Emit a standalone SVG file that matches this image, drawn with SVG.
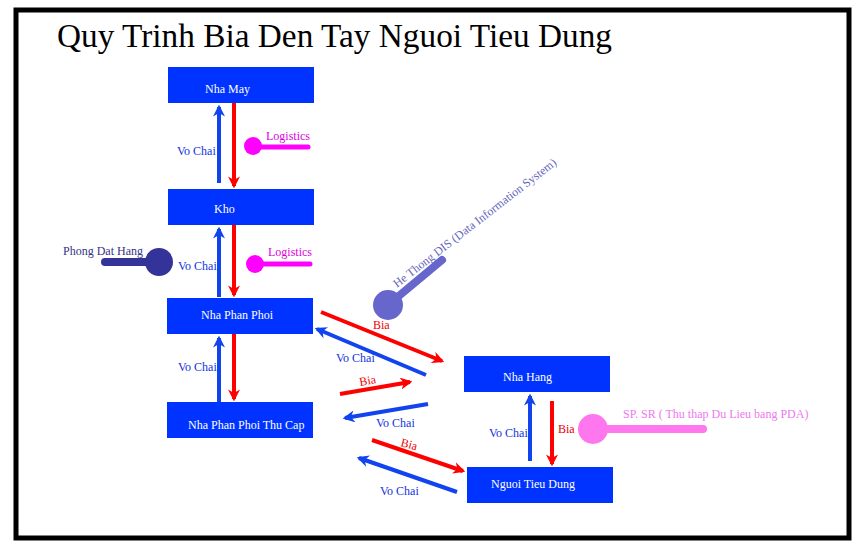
<svg xmlns="http://www.w3.org/2000/svg" width="863" height="552" viewBox="0 0 863 552">
<style>
.node{fill:#0033ff}
.nt{fill:#ffffff;font-family:"Liberation Serif",serif;font-size:12px}
.lb{font-family:"Liberation Serif",serif;font-size:12px}
.blue{stroke:#1144ee;stroke-width:4;fill:none}
.red{stroke:#ff0000;stroke-width:4;fill:none}
.bt{fill:#1133dd}
.rt{fill:#ee0000}
</style>
<defs>
<marker id="ab" viewBox="0 0 10 10" refX="8" refY="5" markerWidth="12" markerHeight="12" markerUnits="userSpaceOnUse" orient="auto">
<path d="M0,0 L10,5 L0,10 L3,5 z" fill="#1144ee"/>
</marker>
<marker id="ar" viewBox="0 0 10 10" refX="8" refY="5" markerWidth="12" markerHeight="12" markerUnits="userSpaceOnUse" orient="auto">
<path d="M0,0 L10,5 L0,10 L3,5 z" fill="#ff0000"/>
</marker>
</defs>
<rect x="0" y="0" width="863" height="552" fill="#ffffff"/>
<rect x="16" y="10" width="833" height="528" fill="none" stroke="#000000" stroke-width="5"/>
<text x="57" y="47" font-family="Liberation Serif,serif" font-size="33" fill="#000000" textLength="555" lengthAdjust="spacingAndGlyphs">Quy Trinh Bia Den Tay Nguoi Tieu Dung</text>

<g id="connectors">
<line class="blue" x1="219" y1="183" x2="219" y2="107" marker-end="url(#ab)"/>
<line class="red" x1="234" y1="103" x2="234" y2="186" marker-end="url(#ar)"/>
<line class="blue" x1="219" y1="297" x2="219" y2="229" marker-end="url(#ab)"/>
<line class="red" x1="234" y1="225" x2="234" y2="295" marker-end="url(#ar)"/>
<line class="blue" x1="219" y1="402" x2="219" y2="338" marker-end="url(#ab)"/>
<line class="red" x1="234" y1="334" x2="234" y2="399" marker-end="url(#ar)"/>
<line class="red" x1="321" y1="312" x2="442" y2="361" marker-end="url(#ar)"/>
<line class="blue" x1="426" y1="375" x2="317" y2="329" marker-end="url(#ab)"/>
<line class="red" x1="340" y1="394" x2="410" y2="382" marker-end="url(#ar)"/>
<line class="blue" x1="428" y1="404" x2="345" y2="418" marker-end="url(#ab)"/>
<line class="red" x1="372" y1="440" x2="463" y2="471" marker-end="url(#ar)"/>
<line class="blue" x1="457" y1="492" x2="359" y2="458" marker-end="url(#ab)"/>
<line class="blue" x1="530" y1="461" x2="530" y2="396" marker-end="url(#ab)"/>
<line class="red" x1="552" y1="401" x2="552" y2="464" marker-end="url(#ar)"/>
<text class="lb bt" x="177" y="155">Vo Chai</text>
<text class="lb bt" x="178" y="270">Vo Chai</text>
<text class="lb bt" x="178" y="371">Vo Chai</text>
<text class="lb rt" x="373" y="329">Bia</text>
<text class="lb bt" x="336" y="362">Vo Chai</text>
<text class="lb rt" x="360" y="386" transform="rotate(-10 360 386)">Bia</text>
<text class="lb bt" x="376" y="427">Vo Chai</text>
<text class="lb rt" x="400" y="446" transform="rotate(15 400 446)">Bia</text>
<text class="lb bt" x="380" y="495">Vo Chai</text>
<text class="lb bt" x="489" y="437">Vo Chai</text>
<text class="lb rt" x="558" y="433">Bia</text>
</g>

<g id="nha-may">
<rect class="node" x="168" y="67" width="146" height="36"/>
<text class="nt" x="205" y="93">Nha May</text>
</g>
<g id="kho">
<rect class="node" x="168" y="189" width="146" height="36"/>
<text class="nt" x="214" y="213">Kho</text>
</g>
<g id="nha-phan-phoi">
<rect class="node" x="167" y="298" width="146" height="36"/>
<text class="nt" x="201" y="319">Nha Phan Phoi</text>
</g>
<g id="nha-phan-phoi-thu-cap">
<rect class="node" x="167" y="402" width="146" height="36"/>
<text class="nt" x="188" y="429">Nha Phan Phoi Thu Cap</text>
</g>
<g id="nha-hang">
<rect class="node" x="464" y="356" width="146" height="36"/>
<text class="nt" x="503" y="381">Nha Hang</text>
</g>
<g id="nguoi-tieu-dung">
<rect class="node" x="467" y="467" width="146" height="36"/>
<text class="nt" x="491" y="488">Nguoi Tieu Dung</text>
</g>

<g id="logistics-1">
<line x1="253" y1="147" x2="308" y2="147" stroke="#ff00ff" stroke-width="5" stroke-linecap="round"/>
<circle cx="253" cy="146" r="9" fill="#ff00ff"/>
<text class="lb" x="266" y="140" fill="#dd00dd">Logistics</text>
</g>
<g id="logistics-2">
<line x1="255" y1="264" x2="310" y2="264" stroke="#ff00ff" stroke-width="5" stroke-linecap="round"/>
<circle cx="255" cy="264" r="9" fill="#ff00ff"/>
<text class="lb" x="268" y="256" fill="#dd00dd">Logistics</text>
</g>
<g id="phong-dat-hang">
<line x1="105" y1="262" x2="159" y2="262" stroke="#333399" stroke-width="8" stroke-linecap="round"/>
<circle cx="159" cy="262" r="14" fill="#333399"/>
<text class="lb" x="63" y="255" fill="#333388">Phong Dat Hang</text>
</g>
<g id="he-thong-dis">
<line x1="388" y1="305" x2="442" y2="260" stroke="#6666cc" stroke-width="8" stroke-linecap="round"/>
<circle cx="388" cy="305" r="15" fill="#6666cc"/>
<text class="lb" x="397" y="288" fill="#6666bb" transform="rotate(-37.7 397 288)">He Thong DIS (Data Information System)</text>
</g>
<g id="sp-sr">
<line x1="593" y1="429" x2="703" y2="429" stroke="#ff77ee" stroke-width="8" stroke-linecap="round"/>
<circle cx="593" cy="429" r="15" fill="#ff77ee"/>
<text class="lb" x="623" y="418" fill="#ee77ee">SP. SR ( Thu thap Du Lieu bang PDA)</text>
</g>
</svg>
